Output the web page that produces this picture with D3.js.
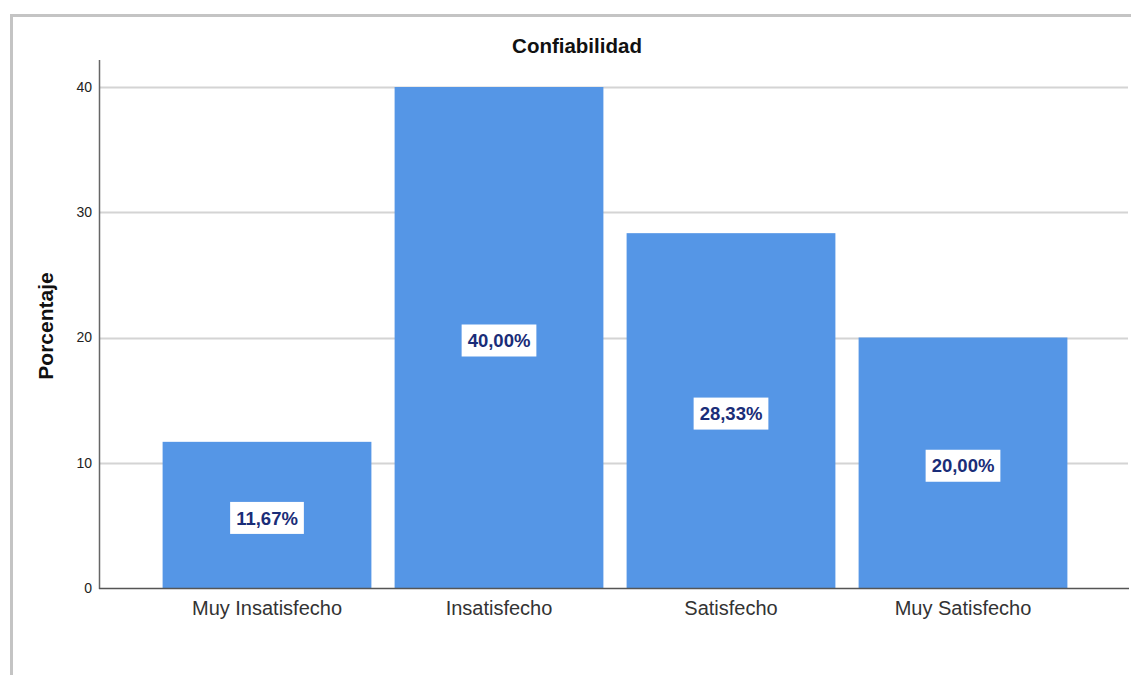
<!DOCTYPE html>
<html lang="es">
<head>
<meta charset="utf-8">
<script src="https://d3js.org/d3.v7.min.js"></script>
<style>
  body { margin: 0; background: #fff; }
  svg text { font-family: "Liberation Sans", Arial, sans-serif; }
</style>
</head>
<body>
<script>
// datos
const categories = ["Muy Insatisfecho", "Insatisfecho", "Satisfecho", "Muy Satisfecho"];
const percents = [11.67, 40.00, 28.33, 20.00];
const yTicks = [0, 10, 20, 30, 40];
const chartTitle = "Confiabilidad";
const yTitle = "Porcentaje";

const width = 1131, height = 675;
const axisLeft = 99, axisRight = 1129;
const plotTop = 87, plotBottom = 588;

const svg = d3.select("body").append("svg")
    .attr("width", width)
    .attr("height", height);

// marco gris
svg.append("path")
    .attr("d", "M11.5,675 V15.5 H1131")
    .attr("fill", "none")
    .attr("stroke", "#c4c4c4")
    .attr("stroke-width", 3);

const x = d3.scaleBand()
    .domain(categories)
    .range([151, 1079])
    .paddingInner(0.1)
    .paddingOuter(0.05);

const y = d3.scaleLinear()
    .domain([0, 40])
    .range([plotBottom, plotTop]);

// rejilla
svg.append("g")
    .selectAll("line")
    .data(yTicks.filter(d => d > 0))
    .join("line")
    .attr("x1", axisLeft)
    .attr("x2", axisRight - 1)
    .attr("y1", d => Math.round(y(d)) + 0.5)
    .attr("y2", d => Math.round(y(d)) + 0.5)
    .attr("stroke", "#d4d4d4")
    .attr("stroke-width", 2);

// barras
svg.append("g")
    .selectAll("rect")
    .data(percents)
    .join("rect")
    .attr("x", (d, i) => x(categories[i]))
    .attr("y", d => y(d))
    .attr("width", x.bandwidth())
    .attr("height", d => y(0) - y(d))
    .attr("fill", "#5596e6");

// eje y
const yAxis = svg.append("g")
    .attr("transform", `translate(${axisLeft},0)`)
    .call(d3.axisLeft(y).tickValues(yTicks).tickSize(0).tickPadding(7));
yAxis.select(".domain").remove();
yAxis.selectAll("text")
    .attr("font-size", 14)
    .attr("fill", "#222")
    .style("font-family", "'Liberation Sans', Arial, sans-serif");

svg.append("line")
    .attr("x1", axisLeft + 0.5).attr("x2", axisLeft + 0.5)
    .attr("y1", 60).attr("y2", plotBottom + 1)
    .attr("stroke", "#666").attr("stroke-width", 1.5);

// eje x
const xAxis = svg.append("g")
    .attr("transform", `translate(0,${plotBottom})`)
    .call(d3.axisBottom(x).tickSize(0).tickPadding(13));
xAxis.select(".domain").remove();
xAxis.selectAll("text")
    .attr("font-size", 20)
    .attr("fill", "#333")
    .style("font-family", "'Liberation Sans', Arial, sans-serif");

svg.append("line")
    .attr("x1", axisLeft).attr("x2", axisRight)
    .attr("y1", plotBottom + 0.5).attr("y2", plotBottom + 0.5)
    .attr("stroke", "#555").attr("stroke-width", 1.5);

// etiquetas de valores
const fmt = v => v.toFixed(2).replace(".", ",") + "%";
const lab = svg.append("g")
    .selectAll("g")
    .data(percents)
    .join("g")
    .attr("transform", (d, i) =>
        `translate(${x(categories[i]) + x.bandwidth() / 2},${(y(d) + y(0)) / 2 + 3})`);

lab.append("rect")
    .attr("fill", "#fff");

lab.append("text")
    .attr("text-anchor", "middle")
    .attr("dy", "0.36em")
    .attr("font-size", 18.5)
    .attr("font-weight", "bold")
    .attr("fill", "#1a2d78")
    .text(fmt);

lab.each(function () {
    const g = d3.select(this);
    const b = g.select("text").node().getBBox();
    g.select("rect")
        .attr("x", b.x - 6)
        .attr("y", -16)
        .attr("width", b.width + 12)
        .attr("height", 32);
});

// titulos
svg.append("text")
    .attr("x", 577)
    .attr("y", 53)
    .attr("text-anchor", "middle")
    .attr("font-size", 20.5)
    .attr("font-weight", "bold")
    .attr("fill", "#111")
    .text(chartTitle);

svg.append("text")
    .attr("transform", "translate(53,326) rotate(-90)")
    .attr("text-anchor", "middle")
    .attr("font-size", 21)
    .attr("font-weight", "bold")
    .attr("fill", "#111")
    .text(yTitle);
</script>
</body>
</html>
